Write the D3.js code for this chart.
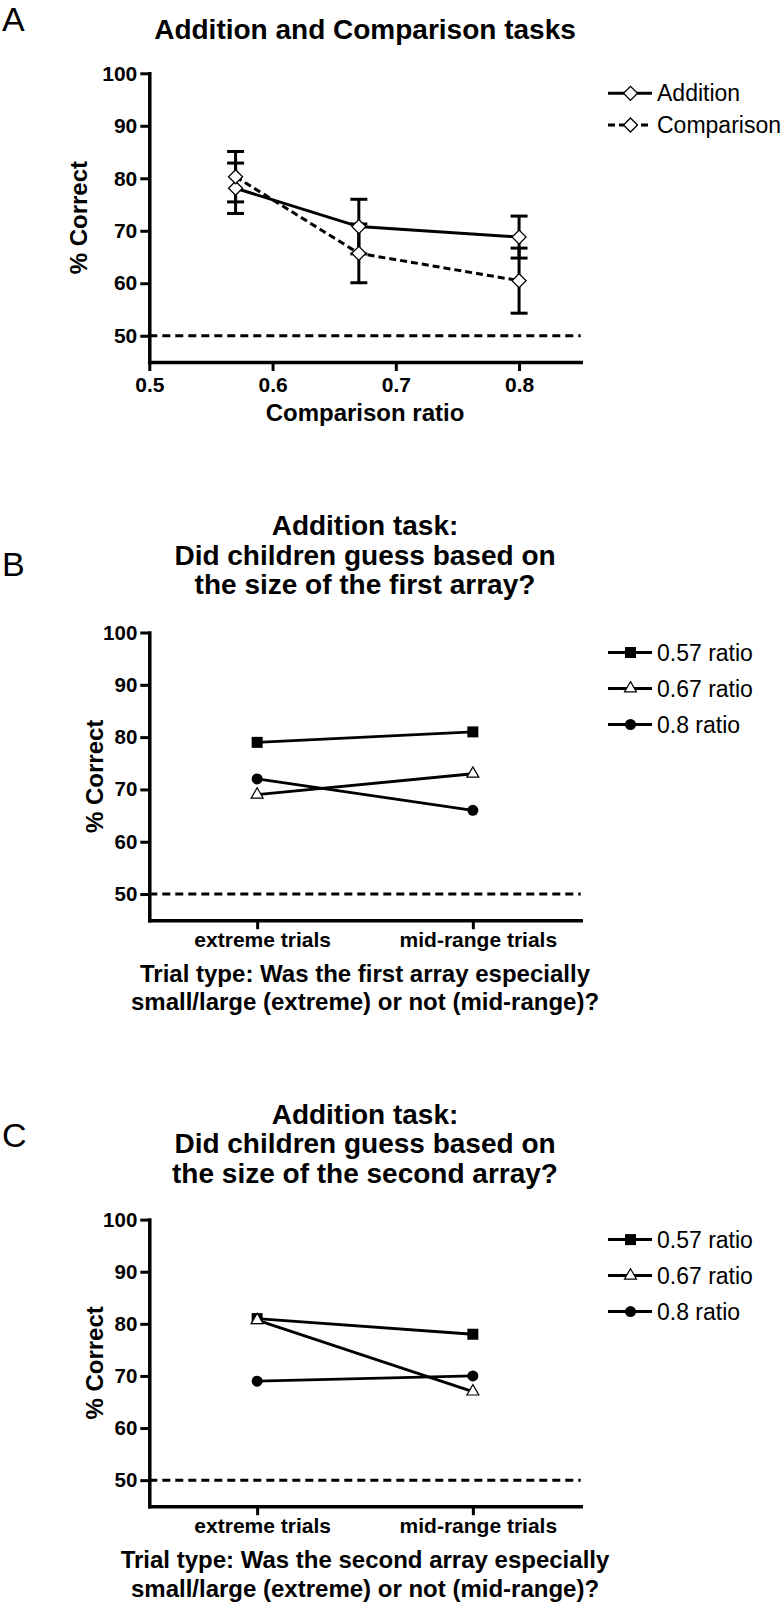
<!DOCTYPE html>
<html><head><meta charset="utf-8">
<script src="https://cdn.jsdelivr.net/npm/d3@7"></script>
<style>
body{margin:0;background:#fff;}
svg{display:block;font-family:"Liberation Sans",Arial,Helvetica,sans-serif;}
</style></head><body>
<svg id="chart" width="784" height="1604"></svg>
<script>
// ---------------- data ----------------
const ratioTicks = [0.5, 0.6, 0.7, 0.8];
const ratios = [0.57, 0.67, 0.8];
const additionMean = [78.1, 70.8, 68.8];
const additionErr = [4.8, 5.2, 4.0];
const comparisonMean = [80.3, 65.7, 60.5];
const comparisonErr = [4.8, 5.6, 6.2];
const percentTicks = [50, 60, 70, 80, 90, 100];
const chanceLevel = 50;
const trialTypes = ["extreme trials", "mid-range trials"];
const ratioLabels = ["0.57 ratio", "0.67 ratio", "0.8 ratio"];
const firstArray057 = [79, 81];
const firstArray067 = [69, 73];
const firstArray08 = [72, 66];
const secondArray057 = [81, 78];
const secondArray067 = [80.7, 67];
const secondArray08 = [69, 70];

// ---------------- layout ----------------
const svg = d3.select("#chart");
const FONT = '"Liberation Sans",Arial,Helvetica,sans-serif';
const X0 = 149.3, X1 = 580.7;
const AXIS_W = 3.5;

function styleAxis(g, fs) {
  g.attr("font-family", FONT);
  g.select(".domain").attr("stroke-width", AXIS_W).attr("stroke-linecap", "square").attr("stroke", "#000");
  g.selectAll(".tick line").attr("stroke-width", 3).attr("stroke", "#000");
  g.selectAll(".tick text").attr("font-size", fs).attr("font-weight", "bold").attr("fill", "#000");
}

function yAxis(y, fs, titleX) {
  const g = svg.append("g").attr("transform", `translate(${X0},0)`)
    .call(d3.axisLeft(y).tickValues(percentTicks).tickSize(9).tickSizeOuter(0).tickPadding(3));
  styleAxis(g, fs);
  const r = y.range();
  svg.append("text")
    .attr("transform", `translate(${titleX},${(r[0] + r[1]) / 2}) rotate(-90)`)
    .attr("text-anchor", "middle").attr("font-weight", "bold").attr("font-size", 24)
    .text("% Correct");
}

function chanceLine(y) {
  svg.append("line").attr("x1", X0).attr("x2", X1)
    .attr("y1", y(chanceLevel)).attr("y2", y(chanceLevel))
    .attr("stroke", "#000").attr("stroke-width", 3).attr("stroke-dasharray", "8,5");
}

function title(lines, y0, step) {
  lines.forEach((t, i) => {
    svg.append("text").attr("x", 365).attr("y", y0 + i * step)
      .attr("text-anchor", "middle").attr("font-weight", "bold").attr("font-size", 28).text(t);
  });
}

function panelLabel(t, y) {
  svg.append("text").attr("x", 2).attr("y", y).attr("font-size", 34).text(t);
}

const diamond = d3.symbol(d3.symbolSquare, 98);
const squareSym = d3.symbol(d3.symbolSquare, 121);
const circleSym = d3.symbol(d3.symbolCircle, 95);
const triSym = d3.symbol(d3.symbolTriangle, 62);

function drawMarker(g, kind, x, y) {
  if (kind === "diamond") {
    g.append("path").attr("d", diamond()).attr("transform", `translate(${x},${y}) rotate(45)`)
      .attr("fill", "#fff").attr("stroke", "#000").attr("stroke-width", 1.3);
  } else if (kind === "square") {
    g.append("path").attr("d", squareSym()).attr("transform", `translate(${x},${y})`).attr("fill", "#000");
  } else if (kind === "circle") {
    g.append("path").attr("d", circleSym()).attr("transform", `translate(${x},${y})`).attr("fill", "#000");
  } else {
    g.append("path").attr("d", triSym()).attr("transform", `translate(${x},${y})`)
      .attr("fill", "#fff").attr("stroke", "#000").attr("stroke-width", 1.2);
  }
}

function legend(items, y0, step) {
  const g = svg.append("g");
  items.forEach((it, i) => {
    const yy = y0 + i * step;
    g.append("line").attr("x1", 608).attr("x2", 652).attr("y1", yy).attr("y2", yy)
      .attr("stroke", "#000").attr("stroke-width", 3)
      .attr("stroke-dasharray", it.dash || null);
    drawMarker(g, it.kind, 630.5, yy);
    g.append("text").attr("x", 657).attr("y", yy).attr("dy", "0.35em")
      .attr("font-size", 23).text(it.label);
  });
}

// ================= Panel A =================
panelLabel("A", 31);
title(["Addition and Comparison tasks"], 39.3, 0);

const xA = d3.scaleLinear().domain([0.5, 0.85]).range([X0, X1]);
const yA = d3.scaleLinear().domain([45, 100]).range([362, 73.3]);

chanceLine(yA);
yAxis(yA, 21, 87);
{
  const g = svg.append("g").attr("transform", `translate(0,${yA(45)})`)
    .call(d3.axisBottom(xA).tickValues(ratioTicks).tickFormat(d3.format(".1f"))
      .tickSize(9).tickSizeOuter(0).tickPadding(6));
  styleAxis(g, 21);
  svg.append("text").attr("x", 365).attr("y", 421).attr("text-anchor", "middle")
    .attr("font-weight", "bold").attr("font-size", 24).text("Comparison ratio");
}

const seriesA = [
  { mean: additionMean, err: additionErr, dash: null },
  { mean: comparisonMean, err: comparisonErr, dash: "7,4" }
];
const gA = svg.append("g");
// error bars
seriesA.forEach(s => {
  ratios.forEach((r, i) => {
    const x = xA(r), lo = yA(s.mean[i] - s.err[i]), hi = yA(s.mean[i] + s.err[i]);
    gA.append("line").attr("x1", x).attr("x2", x).attr("y1", lo).attr("y2", hi)
      .attr("stroke", "#000").attr("stroke-width", 3);
    [lo, hi].forEach(yy => gA.append("line").attr("x1", x - 8.5).attr("x2", x + 8.5)
      .attr("y1", yy).attr("y2", yy).attr("stroke", "#000").attr("stroke-width", 3));
  });
});
// lines
seriesA.forEach(s => {
  gA.append("path").datum(ratios.map((r, i) => [r, s.mean[i]]))
    .attr("d", d3.line().x(d => xA(d[0])).y(d => yA(d[1])))
    .attr("fill", "none").attr("stroke", "#000").attr("stroke-width", 3)
    .attr("stroke-dasharray", s.dash);
});
seriesA.forEach(s => ratios.forEach((r, i) => drawMarker(gA, "diamond", xA(r), yA(s.mean[i]))));

legend([
  { kind: "diamond", label: "Addition" },
  { kind: "diamond", label: "Comparison", dash: "7,4" }
], 93.3, 31.7);

// ================= Panels B & C =================
function trialPanel(opts) {
  panelLabel(opts.label, opts.labelY);
  title(opts.title, opts.titleY, 29.5);
  const x = d3.scalePoint().domain(trialTypes).range([X0, X1]).padding(0.5);
  const y = d3.scaleLinear().domain([45, 100]).range([opts.yBot, opts.yTop]);
  chanceLine(y);
  yAxis(y, 20.5, 103);
  const g = svg.append("g").attr("transform", `translate(0,${y(45)})`)
    .call(d3.axisBottom(x).tickSize(9).tickSizeOuter(0).tickPadding(3));
  styleAxis(g, 21);
  g.selectAll(".tick text").attr("dx", 5);
  opts.xTitle.forEach((t, i) => {
    svg.append("text").attr("x", 365).attr("y", opts.xTitleY + i * 28.5)
      .attr("text-anchor", "middle").attr("font-weight", "bold").attr("font-size", 24).text(t);
  });
  const kinds = ["square", "triangle", "circle"];
  const gd = svg.append("g");
  opts.series.forEach(vals => {
    gd.append("path").datum(trialTypes.map((t, i) => [t, vals[i]]))
      .attr("d", d3.line().x(d => x(d[0])).y(d => y(d[1])))
      .attr("fill", "none").attr("stroke", "#000").attr("stroke-width", 2.8);
  });
  opts.series.forEach((vals, k) => trialTypes.forEach((t, i) => drawMarker(gd, kinds[k], x(t), y(vals[i]))));
  legend(ratioLabels.map((l, k) => ({ kind: kinds[k], label: l })), opts.yTop + 20, 36);
}

trialPanel({
  label: "B", labelY: 576,
  title: ["Addition task:", "Did children guess based on", "the size of the first array?"],
  titleY: 535,
  yTop: 632.5, yBot: 920.2,
  xTitle: ["Trial type: Was the first array especially", "small/large (extreme) or not (mid-range)?"],
  xTitleY: 981.7,
  series: [firstArray057, firstArray067, firstArray08]
});

trialPanel({
  label: "C", labelY: 1147,
  title: ["Addition task:", "Did children guess based on", "the size of the second array?"],
  titleY: 1123.5,
  yTop: 1219.6, yBot: 1506.2,
  xTitle: ["Trial type: Was the second array especially", "small/large (extreme) or not (mid-range)?"],
  xTitleY: 1568.3,
  series: [secondArray057, secondArray067, secondArray08]
});
</script>
</body></html>
